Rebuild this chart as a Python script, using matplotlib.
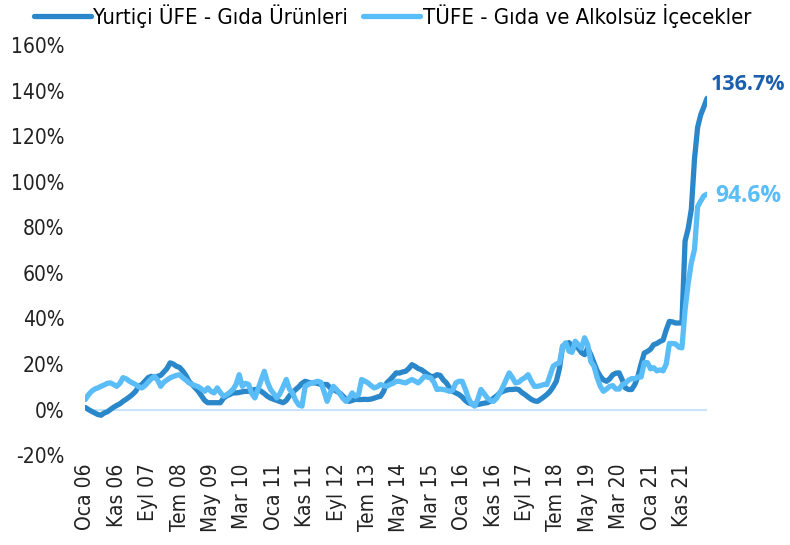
import matplotlib
matplotlib.use("Agg")
import matplotlib.pyplot as plt
import numpy as np
import pandas as pd

plt.rcParams['font.family'] = ['DejaVu Sans']
plt.rcParams['font.stretch'] = 'condensed'

# monthly, Oca 2006 .. Tem 2022 (annual % change)
ufe_gida = [
    0.9, 0.0, -0.8, -1.5, -2.2, -2.5, -1.5, -1.0, 0.0, 1.0, 1.8, 2.5,          # 2006
    3.6, 4.5, 5.5, 6.6, 8.0, 10.2, 11.0, 12.5, 14.0, 14.6, 14.0, 14.6,         # 2007
    15.0, 16.5, 18.0, 20.5, 20.0, 19.0, 18.5, 17.0, 15.0, 12.4, 11.0, 9.5,     # 2008
    8.0, 6.0, 4.0, 3.0, 3.0, 3.0, 3.0, 3.0, 5.0, 6.0, 6.6, 7.3,                # 2009
    7.3, 7.5, 7.8, 8.0, 8.0, 8.5, 8.8, 8.8, 8.0, 7.0, 5.8, 5.0,                # 2010
    4.5, 4.0, 3.5, 3.0, 4.0, 6.0, 7.5, 8.8, 10.0, 11.5, 12.4, 12.0,            # 2011
    11.7, 11.7, 11.5, 11.0, 11.0, 11.0, 9.5, 8.8, 8.0, 7.3, 6.0, 4.5,          # 2012
    3.6, 4.0, 4.5, 4.4, 4.4, 4.5, 4.4, 4.6, 5.0, 5.5, 5.8, 8.0,                # 2013
    11.7, 13.0, 14.5, 16.1, 16.0, 16.5, 16.8, 18.0, 19.7, 19.0, 18.0, 17.5,    # 2014
    16.5, 15.5, 14.6, 14.5, 15.3, 15.0, 13.0, 11.7, 9.5, 8.0, 7.3, 6.6,        # 2015
    5.5, 4.0, 2.9, 2.5, 2.2, 2.2, 2.5, 2.8, 3.0, 3.6, 5.0, 6.0,                # 2016
    7.3, 8.0, 8.5, 8.8, 8.8, 9.0, 8.8, 7.5, 6.6, 5.5, 4.5, 3.8,                # 2017
    3.6, 4.5, 5.5, 6.6, 8.0, 10.0, 12.4, 18.0, 27.8, 28.5, 29.4, 28.0,         # 2018
    27.5, 27.0, 25.0, 24.1, 27.0, 24.0, 20.5, 17.0, 14.6, 13.0, 12.4, 13.5,    # 2019
    15.3, 16.0, 16.1, 13.0, 9.5, 8.8, 8.8, 11.0, 14.6, 20.0, 24.8, 25.5,       # 2020
    26.5, 28.5, 29.0, 29.9, 30.5, 35.0, 38.7, 38.5, 38.0, 38.0, 38.0, 74.0,    # 2021
    79.5, 88.0, 110.0, 124.0, 129.5, 133.0, 136.7,                             # 2022
]

tufe_gida = [
    4.4, 6.5, 8.0, 9.0, 9.5, 10.2, 10.8, 11.5, 11.7, 11.0, 10.2, 11.5,         # 2006
    14.0, 13.5, 12.5, 11.7, 11.0, 10.0, 9.5, 10.5, 12.0, 13.5, 14.6, 13.0,     # 2007
    10.2, 12.0, 13.0, 13.9, 14.5, 15.0, 15.3, 14.0, 13.0, 11.7, 11.0, 10.5,    # 2008
    10.0, 9.0, 8.0, 9.5, 8.0, 7.3, 9.5, 7.5, 5.8, 6.5, 7.5, 8.8,               # 2009
    11.0, 15.3, 10.2, 11.5, 11.0, 7.0, 5.1, 9.0, 13.0, 16.8, 12.0, 8.8,        # 2010
    7.0, 5.1, 7.0, 10.0, 13.2, 9.0, 7.3, 4.0, 2.0, 1.5, 10.2, 11.0,            # 2011
    11.7, 12.0, 12.4, 12.0, 8.0, 3.6, 7.3, 10.2, 8.8, 7.0, 5.0, 3.6,           # 2012
    5.0, 7.3, 5.8, 6.5, 13.2, 12.5, 11.7, 10.5, 9.5, 10.0, 11.0, 10.5,         # 2013
    10.2, 11.0, 11.5, 12.4, 12.4, 12.0, 11.7, 12.5, 13.2, 12.5, 11.7, 13.0,    # 2014
    14.6, 14.2, 13.9, 12.0, 8.8, 9.0, 8.8, 8.5, 8.0, 8.5, 11.7, 12.4,          # 2015
    12.4, 9.0, 5.0, 2.5, 1.5, 4.5, 8.8, 7.0, 5.1, 4.0, 3.6, 5.0,               # 2016
    7.3, 10.0, 13.0, 16.1, 14.0, 11.7, 12.0, 13.2, 14.0, 15.3, 12.5, 10.2,     # 2017
    10.2, 10.5, 11.0, 11.0, 15.0, 19.0, 20.0, 20.5, 27.7, 29.3, 25.7, 25.1,    # 2018
    30.0, 28.5, 27.0, 31.5, 28.4, 21.0, 19.0, 14.0, 10.2, 8.0, 9.0, 10.2,      # 2019
    10.5, 9.0, 9.0, 10.9, 11.6, 12.9, 13.6, 13.5, 14.3, 14.3, 20.6, 20.6,      # 2020
    17.9, 18.4, 17.0, 17.4, 17.0, 20.0, 29.0, 29.0, 28.8, 27.4, 27.1, 43.8,    # 2021
    55.6, 64.5, 70.3, 89.1, 91.6, 93.9, 94.6,                                  # 2022
]

ay_kisa = ['Oca', 'Şub', 'Mar', 'Nis', 'May', 'Haz', 'Tem', 'Ağu', 'Eyl', 'Eki', 'Kas', 'Ara']
dates = pd.date_range('2006-01-01', periods=len(ufe_gida), freq='MS')
x = np.arange(len(dates))
tick_pos = x[::10]
tick_labels = [f"{ay_kisa[d.month - 1]} {d.strftime('%y')}" for d in dates[::10]]

COLOR_UFE = '#2a87c9'
COLOR_TUFE = '#5bbdf8'
COLOR_UFE_TXT = '#1b5fae'
COLOR_ZERO = '#c9e4fa'

fig = plt.figure(figsize=(7.9, 5.45), dpi=100)
ax = fig.add_axes([0.108, 0.165, 0.787, 0.752])

ax.axhline(0, color=COLOR_ZERO, linewidth=1.5, zorder=1)
ax.plot(x, ufe_gida, color=COLOR_UFE, linewidth=3.8, solid_capstyle='round',
        solid_joinstyle='round', label='Yurtiçi ÜFE - Gıda Ürünleri', zorder=2)
ax.plot(x, tufe_gida, color=COLOR_TUFE, linewidth=3.8, solid_capstyle='round',
        solid_joinstyle='round', label='TÜFE - Gıda ve Alkolsüz İçecekler', zorder=3)

# end labels
lbl_font = ['Open Sans', 'DejaVu Sans']
ax.annotate(f'{ufe_gida[-1]:.1f}%', xy=(x[-1], ufe_gida[-1]), xytext=(3, 10),
            textcoords='offset points', fontsize=15.5, fontweight='bold', family=lbl_font,
            fontstretch='normal', color=COLOR_UFE_TXT, va='center', ha='left',
            annotation_clip=False)
ax.annotate(f'{tufe_gida[-1]:.1f}%', xy=(x[-1], tufe_gida[-1]), xytext=(6, -1.5),
            textcoords='offset points', fontsize=16.5, fontweight='bold', family=lbl_font,
            fontstretch='normal', color=COLOR_TUFE, va='center', ha='left',
            annotation_clip=False)

ax.set_xlim(0, len(x) - 1)
ax.set_ylim(-20, 160)
ax.set_yticks(np.arange(-20, 161, 20))
ax.set_yticklabels([f'{v}%' for v in range(-20, 161, 20)], fontsize=15)
ax.set_xticks(tick_pos)
ax.set_xticklabels(tick_labels, rotation=90, fontsize=15)
ax.tick_params(axis='y', length=0, pad=15, colors='#222222')
ax.tick_params(axis='x', length=0, pad=6, colors='#222222')
for s in ax.spines.values():
    s.set_visible(False)

leg = ax.legend(loc='upper left', bbox_to_anchor=(-0.097, 1.123), ncol=2, frameon=False,
                fontsize=15.8, handlelength=2.6, handletextpad=0.1, columnspacing=0.7,
                borderaxespad=0)

fig.savefig('out.png', dpi=100)
